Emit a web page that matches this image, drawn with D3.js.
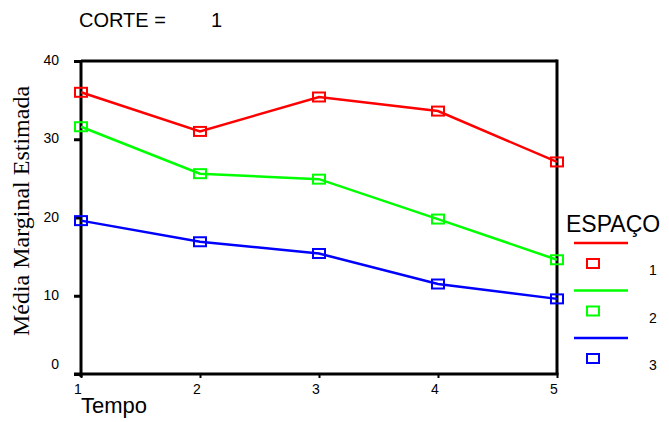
<!DOCTYPE html>
<html><head><meta charset="utf-8">
<script src="https://cdn.jsdelivr.net/npm/d3@7"></script>
<style>body{margin:0;background:#fff}svg{display:block}</style>
</head><body>
<script>
const tempos = [1, 2, 3, 4, 5];
const espacoLabels = ["1", "2", "3"];
const serie1 = [36.0, 31.0, 35.4, 33.6, 27.1];
const serie2 = [31.6, 25.6, 24.9, 19.8, 14.6];
const serie3 = [19.6, 16.9, 15.4, 11.5, 9.6];
const yTicks = [0, 10, 20, 30, 40];
const colors = ["#ff0000", "#00ff00", "#0000ff"];
const seriesVals = [serie1, serie2, serie3];

const W = 669, H = 422;
const svg = d3.select("body").append("svg").attr("width", W).attr("height", H);
const x = d3.scaleLinear().domain([1, 5]).range([81, 557]);
const y = d3.scaleLinear().domain([0, 40]).range([374, 61]);

// title
svg.append("text").attr("x", 79).attr("y", 27).attr("font-family", "Arial, Liberation Sans")
  .attr("font-size", 20).text("CORTE =");
svg.append("text").attr("x", 211).attr("y", 27).attr("font-family", "Arial, Liberation Sans")
  .attr("font-size", 20).text("1");

// frame
const g = svg.append("g");
g.append("line").attr("x1", x(1)).attr("x2", x(5)).attr("y1", y(40)).attr("y2", y(40)).attr("stroke", "#000").attr("stroke-width", 3);
g.append("line").attr("x1", x(5)).attr("x2", x(5)).attr("y1", y(40) - 1.5).attr("y2", y(0)).attr("stroke", "#000").attr("stroke-width", 3);

// y axis
const yAxis = d3.axisLeft(y).tickValues(yTicks).tickSize(7).tickSizeOuter(0).tickFormat("");
const ya = svg.append("g").attr("transform", `translate(${x(1)},0)`).call(yAxis);
ya.select(".domain").attr("stroke-width", 3).attr("d", `M0,${y(40)}V${y(0) + 3}`);
ya.selectAll(".tick line").attr("stroke-width", 3);
svg.selectAll(".ylab").data(yTicks).join("text").attr("class", "ylab")
  .attr("x", 59).attr("y", d => y(d) + (d === 0 ? -5 : 4))
  .attr("text-anchor", "end").attr("font-family", "Arial, Liberation Sans").attr("font-size", 14)
  .text(d => d);

// x axis
const xAxis = d3.axisBottom(x).tickValues(tempos).tickSize(4).tickSizeOuter(0).tickFormat("");
const xa = svg.append("g").attr("transform", `translate(0,${y(0)})`).call(xAxis);
xa.select(".domain").attr("stroke-width", 3).attr("d", `M${x(1) - 7},0H${x(5) + 1.5}`);
xa.selectAll(".tick line").attr("stroke-width", 2);
svg.selectAll(".xlab").data(tempos).join("text").attr("class", "xlab")
  .attr("x", d => x(d) - 3).attr("y", 394)
  .attr("text-anchor", "middle").attr("font-family", "Arial, Liberation Sans").attr("font-size", 14)
  .text(d => d);

svg.append("text").attr("x", 81).attr("y", 413).attr("font-family", "Arial, Liberation Sans")
  .attr("font-size", 22).text("Tempo");
svg.append("text").attr("transform", "translate(29,211) rotate(-90)").attr("text-anchor", "middle")
  .attr("font-family", "Times New Roman, Liberation Serif").attr("font-size", 24).text("Média Marginal Estimada");

// series
const line = d3.line().x((d, i) => x(tempos[i])).y(d => y(d));
seriesVals.forEach((vals, si) => {
  svg.append("path").datum(vals).attr("d", line).attr("fill", "none")
    .attr("stroke", colors[si]).attr("stroke-width", 2.5);
  svg.selectAll(".m" + si).data(vals).join("rect").attr("class", "m" + si)
    .attr("x", (d, i) => x(tempos[i]) - 6).attr("y", d => y(d) - 4.5)
    .attr("width", 12).attr("height", 9).attr("fill", "none")
    .attr("stroke", colors[si]).attr("stroke-width", 2);
});

// legend
svg.append("text").attr("x", 566).attr("y", 232).attr("font-family", "Arial, Liberation Sans")
  .attr("font-size", 23).text("ESPAÇO");
espacoLabels.forEach((lab, i) => {
  const oy = i * 47.5;
  svg.append("line").attr("x1", 574).attr("x2", 628).attr("y1", 243 + oy).attr("y2", 243 + oy)
    .attr("stroke", colors[i]).attr("stroke-width", 2.5);
  svg.append("rect").attr("x", 587).attr("y", 259 + oy).attr("width", 12).attr("height", 9)
    .attr("fill", "none").attr("stroke", colors[i]).attr("stroke-width", 2);
  svg.append("text").attr("x", 649).attr("y", 275 + oy).attr("font-family", "Arial, Liberation Sans")
    .attr("font-size", 14).text(lab);
});
</script>
</body></html>
